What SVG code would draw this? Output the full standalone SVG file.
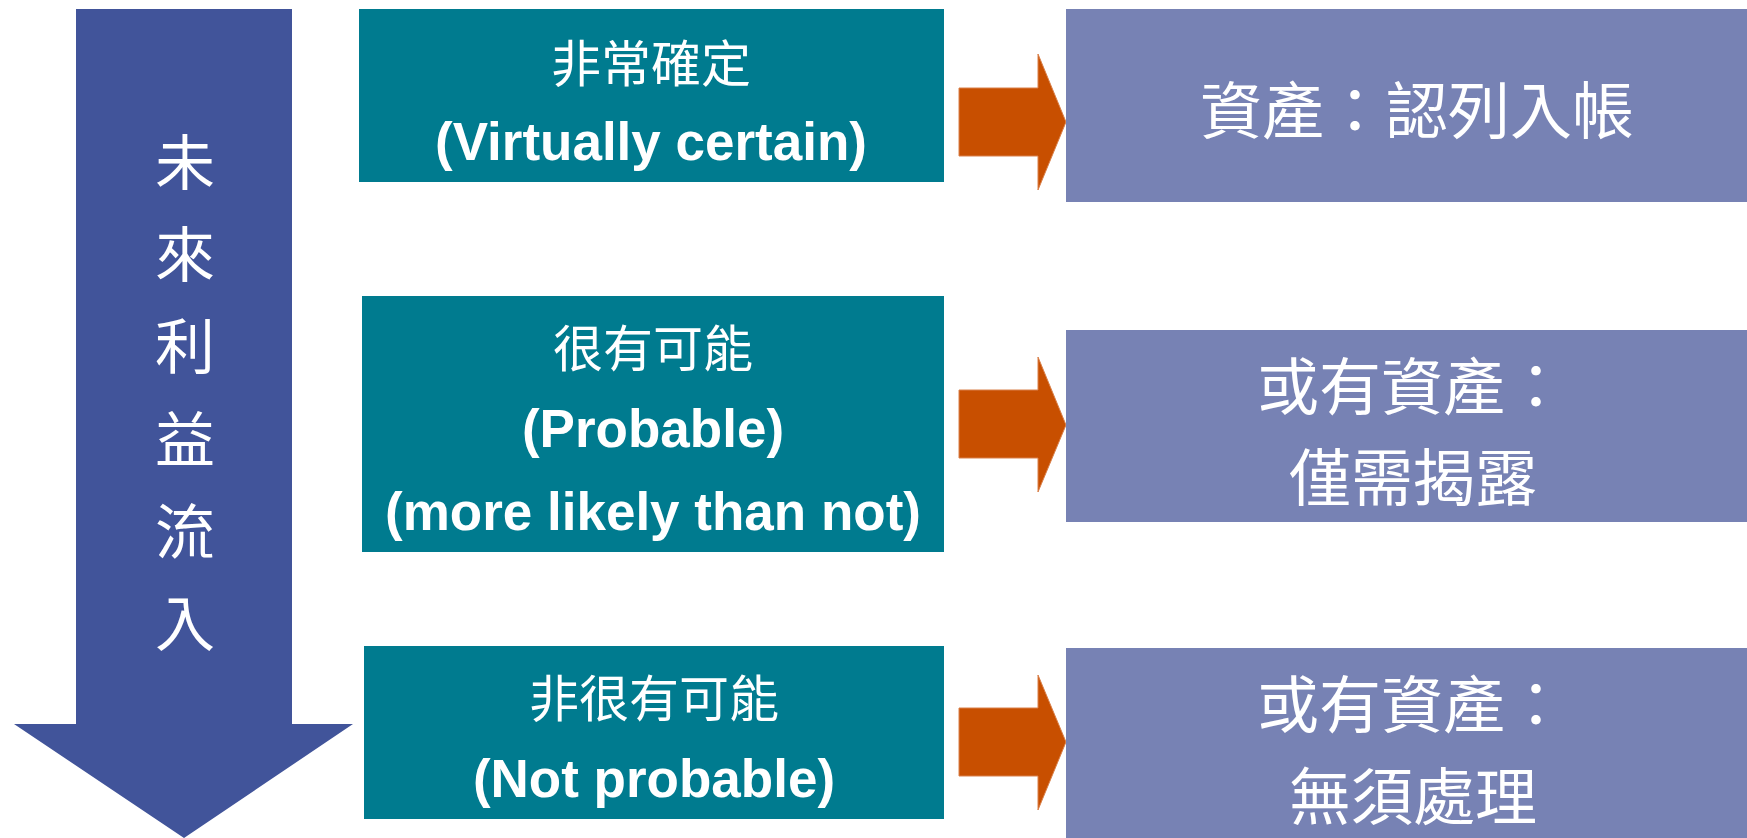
<svg xmlns="http://www.w3.org/2000/svg" width="1747" height="838" viewBox="0 0 1747 838">
<style>
.teal{fill:#007B8F}
.purple{fill:#7782B4}
.orange{fill:#C84F00;stroke:#D9804A;stroke-width:1}
.blue{fill:#41549A}
.cjk{font-family:"Noto Sans CJK TC","Noto Sans CJK SC",sans-serif;fill:#FFFFFF;text-anchor:middle}
.en{font-family:"Liberation Sans",Arial,sans-serif;font-weight:bold;font-size:53px;fill:#FFFFFF;text-anchor:middle}
.c50{font-size:50px}
.c60{font-size:60px}
.c62{font-size:62px}
</style>
<rect width="1747" height="838" fill="#FFFFFF"/>
<g id="flow-arrow">
<polygon class="blue" points="76,9 292,9 292,724 353,724 184,838 14,724 76,724"/>
<text class="cjk c60" x="185" y="185">未</text>
<text class="cjk c60" x="185" y="277">來</text>
<text class="cjk c60" x="185" y="369">利</text>
<text class="cjk c60" x="185" y="462">益</text>
<text class="cjk c60" x="185" y="554">流</text>
<text class="cjk c60" x="185" y="646">入</text>
</g>
<g id="virtually-certain">
<rect class="teal" x="359" y="9" width="585" height="173"/>
<text class="cjk c50" x="651" y="82">非常確定</text>
<text class="en" x="651" y="160">(Virtually certain)</text>
</g>
<g id="probable">
<rect class="teal" x="362" y="296" width="582" height="256"/>
<text class="cjk c50" x="653" y="367">很有可能</text>
<text class="en" x="653" y="447">(Probable)</text>
<text class="en" x="653" y="530">(more likely than not)</text>
</g>
<g id="not-probable">
<rect class="teal" x="364" y="646" width="580" height="173"/>
<text class="cjk c50" x="654" y="717">非很有可能</text>
<text class="en" x="654" y="797">(Not probable)</text>
</g>
<g id="connectors">
<polygon class="orange" points="959,88 1038,88 1038,54 1066,122 1038,190 1038,156 959,156"/>
<polygon class="orange" points="959,390 1038,390 1038,357 1066,425 1038,492 1038,458 959,458"/>
<polygon class="orange" points="959,708 1038,708 1038,675 1066,742 1038,810 1038,776 959,776"/>
</g>
<g id="recognize">
<rect class="purple" x="1066" y="9" width="681" height="193"/>
<text class="cjk c62" x="1417" y="134">資產：認列入帳</text>
</g>
<g id="disclose">
<rect class="purple" x="1066" y="330" width="681" height="192"/>
<text class="cjk c62" x="1412" y="410">或有資產：</text>
<text class="cjk c62" x="1413" y="501">僅需揭露</text>
</g>
<g id="no-action">
<rect class="purple" x="1066" y="648" width="681" height="190"/>
<text class="cjk c62" x="1412" y="728">或有資產：</text>
<text class="cjk c62" x="1413" y="820">無須處理</text>
</g>
</svg>
